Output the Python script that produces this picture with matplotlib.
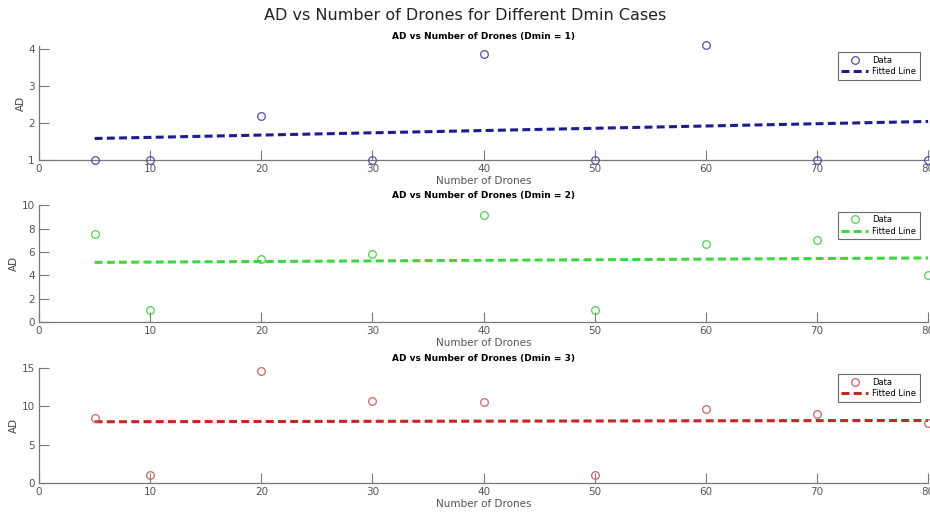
import matplotlib
matplotlib.use('Agg')
import matplotlib.pyplot as plt

drones = [5, 10, 20, 30, 40, 50, 60, 70, 80]

ad_dmin1 = [1.0, 1.0, 2.2, 1.0, 3.87, 1.0, 4.11, 1.0, 1.0]
ad_dmin2 = [7.57, 1.03, 5.4, 5.8, 9.14, 1.03, 6.71, 7.03, 4.0]
ad_dmin3 = [8.5, 1.05, 14.55, 10.7, 10.5, 1.05, 9.6, 9.0, 7.85]

# fitted line end points (x = 5 and x = 80)
fit_x = [5, 80]
fit_dmin1 = [1.58, 2.04]
fit_dmin2 = [5.11, 5.49]
fit_dmin3 = [7.98, 8.15]

dmin_labels = [1, 2, 3]
ylims = [(1, 4.08), (0, 10), (0, 15)]
yticks = [[1, 2, 3, 4], [0, 2, 4, 6, 8, 10], [0, 5, 10, 15]]
marker_colors = ['#5050a8', '#55cc55', '#c86464']
line_colors = ['#1c1c8e', '#3ed63e', '#c42525']

fig = plt.figure(figsize=(9.3, 5.16), dpi=100)
fig.suptitle('AD vs Number of Drones for Different Dmin Cases',
             y=0.985, fontsize=11.5, color='#222222')

boxes = [[0.042, 0.690, 0.956, 0.221],
         [0.042, 0.376, 0.956, 0.226],
         [0.042, 0.064, 0.956, 0.223]]

series = [ad_dmin1, ad_dmin2, ad_dmin3]
fits = [fit_dmin1, fit_dmin2, fit_dmin3]

for i in range(3):
    ax = fig.add_axes(boxes[i])
    ax.plot(drones, series[i], 'o', mfc='none', mec=marker_colors[i],
            ms=5.5, mew=0.9, label='Data', clip_on=False, zorder=3)
    ax.plot(fit_x, fits[i], '--', color=line_colors[i], lw=2.2,
            dashes=(2.6, 1.4), label='Fitted Line', clip_on=False)
    ax.set_xlim(0, 80)
    ax.set_ylim(*ylims[i])
    ax.set_xticks(range(0, 81, 10))
    ax.set_yticks(yticks[i])
    for s in ['top', 'right']:
        ax.spines[s].set_visible(False)
    for s in ['left', 'bottom']:
        ax.spines[s].set_color('#777777')
        ax.spines[s].set_linewidth(0.9)
    ax.tick_params(direction='in', length=7, width=0.8, colors='#777777',
                   labelsize=7.5, labelcolor='#555555', pad=3)
    ax.set_xlabel('Number of Drones', fontsize=7.5, color='#555555', labelpad=1)
    ax.set_ylabel('AD', fontsize=7.5, color='#444444', labelpad=2)
    ax.set_title('AD vs Number of Drones (Dmin = %d)' % dmin_labels[i],
                 fontsize=6.5, fontweight='bold', pad=5)
    leg = ax.legend(loc='upper right', bbox_to_anchor=(0.995, 0.98),
                    fontsize=6, frameon=True, fancybox=False,
                    handlelength=3.2, borderpad=0.4, labelspacing=0.3,
                    handletextpad=0.5)
    leg.get_frame().set_edgecolor('#444444')
    leg.get_frame().set_linewidth(0.8)

fig.savefig('out.png', dpi=100)
